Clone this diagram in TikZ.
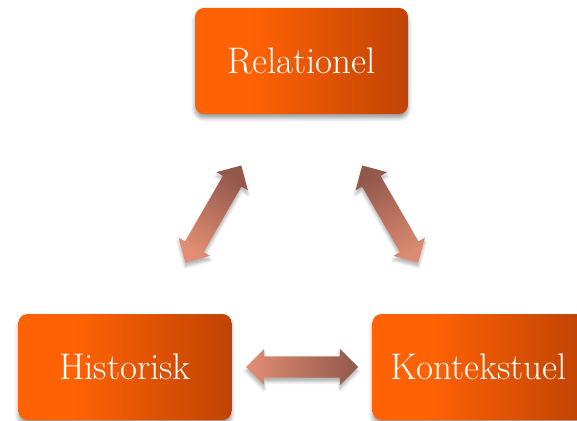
\documentclass[tikz,border=0pt]{standalone}
\usetikzlibrary{shapes.arrows,shadows.blur,calc}
\definecolor{oA}{RGB}{208,74,0}
\definecolor{oB}{RGB}{255,98,4}
\definecolor{oC}{RGB}{150,46,4}
\definecolor{arLight}{RGB}{226,142,116}
\definecolor{arDark}{RGB}{146,88,74}
\pgfdeclarehorizontalshading{boxshade}{100bp}{color(0bp)=(oA); color(25bp)=(oB); color(38bp)=(oB); color(100bp)=(oC)}
\tikzset{
  box/.style={shade, shading=boxshade, rounded corners=9pt,
    minimum width=213pt, minimum height=106pt, inner sep=0pt,
    text=white, font=\fontsize{37}{44}\selectfont,
    blur shadow={shadow xshift=0pt, shadow yshift=-4pt, shadow blur radius=4pt, shadow opacity=40}},
  blockarrow/.style={double arrow, double arrow head extend=7.5pt,
    minimum height=112pt, inner xsep=0pt, inner ysep=10.5pt,
    blur shadow={shadow xshift=0pt, shadow yshift=-4pt, shadow blur radius=3pt, shadow opacity=30}}
}
\begin{document}
\begin{tikzpicture}[x=1pt,y=1pt]
\useasboundingbox (0,0) rectangle (577,420);
\node[box] (rel) at (301.5,359) {Relationel};
\node[box] (his) at (125,53) {Historisk};
\node[box] (kon) at (479,53) {Kontekstuel};
\node[blockarrow, rotate=60, top color=arDark, bottom color=arLight, shading angle=-30] (aL) at ($(rel)!0.5!(his)$) {};
\node[blockarrow, rotate=-60, top color=arDark, bottom color=arLight!92!arDark, shading angle=30] (aR) at ($(rel)!0.5!(kon)$) {};
\node[blockarrow, left color=arLight, right color=arDark] (aB) at ($(his)!0.5!(kon)$) {};
\end{tikzpicture}
\end{document}
